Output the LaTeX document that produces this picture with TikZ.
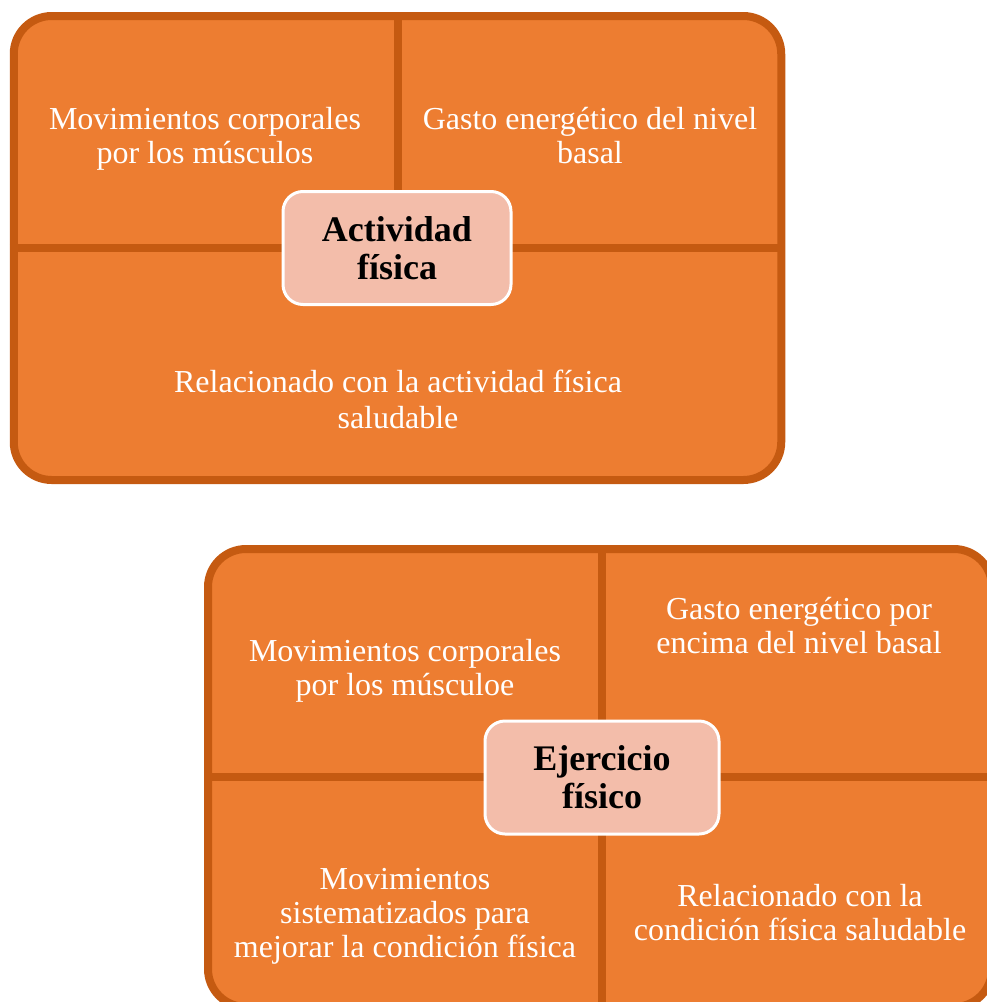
\documentclass[tikz,border=0pt]{standalone}
\usepackage{fontspec}
\setmainfont{Liberation Serif}
\definecolor{orfill}{RGB}{237,125,49}
\definecolor{orline}{RGB}{197,90,17}
\definecolor{corefill}{RGB}{243,189,170}
\tikzset{
  panel/.style={shape=rectangle, fill=orfill, draw=orline, line width=8pt, rounded corners=38pt, inner sep=0pt},
  divider/.style={draw=orline, line width=8pt},
  core/.style={shape=rectangle, fill=corefill, draw=white, line width=3pt, rounded corners=20pt, inner sep=0pt,
    font=\bfseries\fontsize{36}{38}\selectfont, align=center, text=black},
  lbl/.style={text=white, font=\fontsize{32}{34}\selectfont, align=center, inner sep=0pt, anchor=base}
}
\begin{document}
\begin{tikzpicture}[x=1pt,y=-1pt]
\useasboundingbox (0,0) rectangle (987,1002);
\clip (0,0) rectangle (987,1002);
% top panel
\node[panel, minimum width=767.5pt, minimum height=464pt] (top) at (397.5,248) {};
\draw[divider] (top.north) -- (top.center);
\draw[divider] (top.west) -- (top.east);
\node[lbl] (t1) at (205,163) {Movimientos corporales\\por los músculos};
\node[lbl] (t2) at (590,163) {Gasto energético del nivel\\basal};
\node[lbl, font=\fontsize{32}{36}\selectfont] (t3) at (398,428) {Relacionado con la actividad física\\saludable};
\node[core, minimum width=228pt, minimum height=113pt] (c1) at (397,248) {Actividad\\física};
% bottom panel
\node[panel, minimum width=784pt, minimum height=458pt] (bot) at (600,778) {};
\draw[divider] ([xshift=2pt]bot.north) -- ([xshift=2pt]bot.south);
\draw[divider] ([yshift=1pt]bot.west) -- ([yshift=1pt]bot.east);
\node[lbl] (b1) at (405,695) {Movimientos corporales\\por los músculoe};
\node[lbl] (b2) at (799,653) {Gasto energético por\\encima del nivel basal};
\node[lbl] (b3) at (405,957) {Movimientos\\sistematizados para\\mejorar la condición física};
\node[lbl] (b4) at (800,940) {Relacionado con la\\condición física saludable};
\node[core, minimum width=234pt, minimum height=113pt] (c2) at (602,777.5) {Ejercicio\\físico};
\end{tikzpicture}
\end{document}
